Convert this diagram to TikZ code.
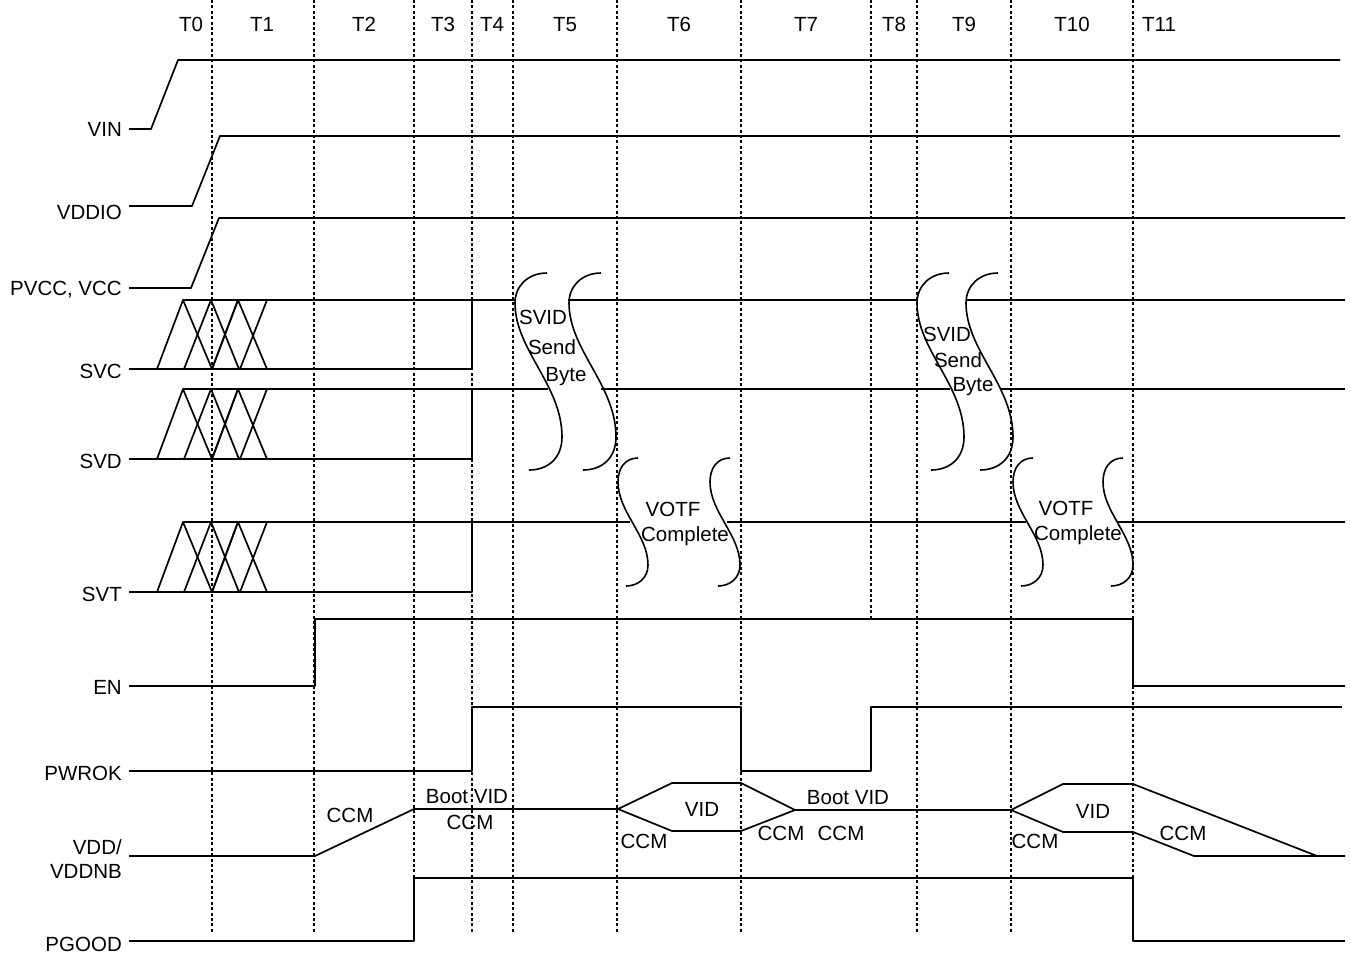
\documentclass[tikz,border=0pt]{standalone}
\usepackage{fontspec}
\setmainfont{Liberation Sans}
\usetikzlibrary{positioning}

\begin{document}
\begin{tikzpicture}[
    x=1pt, y=-1pt,
    font=\fontsize{20.5}{24}\selectfont,
    wave/.style={draw=black, line width=1.7pt, line join=round},
    squiggle/.style={draw=black, line width=1.6pt},
    tick/.style={draw=black, line width=1.4pt, dash pattern=on 3pt off 2.4pt},
    sigword/.style={anchor=east, inner sep=0pt, align=right, yshift=-0.8pt},
    phase/.style={inner sep=0pt, yshift=-0.8pt},
    busword/.style={inner sep=0pt, align=center, yshift=-0.8pt},
  ]
  \useasboundingbox (0,0) rectangle (1351,954);

  % phase markers
  \foreach \xpos in {212,314,414,472,513,617,741,917,1011}
    \draw[tick] (\xpos,0) -- (\xpos,933);
  \draw[tick] (871,0) -- (871,620);
  \draw[tick] (1133,0) -- (1133,940);

  \foreach \nr/\xpos in {0/191,1/262,2/364,3/443,4/492,5/565,6/679,7/806,8/894,9/964,10/1072,11/1159}
    \node[phase] (t\nr) at (\xpos,24) {T\nr};

  % signal names
  \node[sigword] (vin)    at (122,129) {VIN};
  \node[sigword] (vddio)  at (122,212) {VDDIO};
  \node[sigword] (pvcc)   at (122,289) {PVCC, VCC};
  \node[sigword] (svc)    at (122,371) {SVC};
  \node[sigword] (svd)    at (122,461) {SVD};
  \node[sigword] (svt)    at (122,594) {SVT};
  \node[sigword] (en)     at (122,687) {EN};
  \node[sigword] (pwrok)  at (122,773) {PWROK};
  \node[sigword] (vdd)    at (122,858) {VDD/\\VDDNB};
  \node[sigword] (pgood)  at (122,944) {PGOOD};

  % supplies
  \draw[wave] (129,129) -- (151,129) -- (178,60) -- (1340,60);
  \draw[wave] (129,206) -- (192,206) -- (220,136) -- (1340,136);
  \draw[wave] (129,288) -- (191,288) -- (219,218) -- (1345,218);

  % SVI lines, undefined part first
  \foreach \hi/\lo in {300/369,389/459,522/592} {
    \draw[wave] (129,\lo) -- (472,\lo) -- (472,\hi);
    \draw[wave] (157,\lo) -- (183,\hi) -- (212,\lo) -- (238,\hi);
    \draw[wave] (184,\lo) -- (211,\hi) -- (239,\lo) -- (240,\lo) -- (267,\hi);
    \draw[wave] (212,\lo) -- (238,\hi) -- (267,\lo);
  }
  \draw[wave] (183,300) -- (515,300);
  \draw[wave] (568,300) -- (918,300);
  \draw[wave] (966,300) -- (1345,300);
  \draw[wave] (183,389) -- (548,389);
  \draw[wave] (601,389) -- (950,389);
  \draw[wave] (1000,389) -- (1345,389);
  \draw[wave] (183,522) -- (630,522);
  \draw[wave] (727,522) -- (1026,522);
  \draw[wave] (1117,522) -- (1345,522);

  % breaks in the time axis
  \foreach \dx in {0,54,402,451}
    \draw[squiggle, shift={(\dx,0)}] (547,273) .. controls (528,273) and (515,286) .. (515,303)
      .. controls (515,350) and (562,385) .. (562,437)
      .. controls (562,458) and (548,470) .. (529,470);
  \foreach \dx in {0,92,395,485}
    \draw[squiggle, shift={(\dx,0)}] (638,458) .. controls (625,458) and (618,468) .. (618,482)
      .. controls (618,512) and (648,535) .. (648,565)
      .. controls (648,578) and (638,586) .. (626,586);

  \node[busword] (svida)  at (543,317) {SVID};
  \node[busword] (senda)  at (552,346) {Send};
  \node[busword] (bytea)  at (566,376) {Byte};
  \node[busword] (svidb)  at (947,334) {SVID};
  \node[busword] (sendb)  at (958,359) {Send};
  \node[busword] (byteb)  at (973,386) {Byte};
  \node[busword] (votfa)  at (673,509) {VOTF};
  \node[busword] (compa)  at (685,535) {Complete};
  \node[busword] (votfb)  at (1066,508) {VOTF};
  \node[busword] (compb)  at (1078,534) {Complete};

  % EN, PWROK, PGOOD
  \draw[wave] (129,686) -- (315,686) -- (315,619) -- (1133,619) -- (1133,686) -- (1345,686);
  \draw[wave] (129,771) -- (472,771) -- (472,707) -- (741,707) -- (741,771)
    -- (871,771) -- (871,707) -- (1342,707);
  \draw[wave] (129,941) -- (414,941) -- (414,878) -- (1133,878) -- (1133,941) -- (1345,941);

  % VDD/VDDNB
  \draw[wave] (129,856) -- (315,856) -- (414,809) -- (618,809) -- (672,783) -- (741,783) -- (795,810)
    -- (741,831) -- (672,831) -- (618,809);
  \draw[wave] (795,810) -- (1011,810) -- (1063,784) -- (1133,784) -- (1317,856) -- (1345,856);
  \draw[wave] (1011,810) -- (1063,832) -- (1133,832) -- (1194,856) -- (1317,856);

  \node[busword] (ccma)   at (350,815) {CCM};
  \node[busword] (boota)  at (467,796) {Boot VID};
  \node[busword] (ccmb)   at (470,822) {CCM};
  \node[busword] (vida)   at (702,809) {VID};
  \node[busword] (ccmc)   at (644,841) {CCM};
  \node[busword] (ccmd)   at (781,833) {CCM};
  \node[busword] (ccme)   at (841,833) {CCM};
  \node[busword] (bootb)  at (848,797) {Boot VID};
  \node[busword] (vidb)   at (1093,811) {VID};
  \node[busword] (ccmf)   at (1035,841) {CCM};
  \node[busword] (ccmg)   at (1183,833) {CCM};
\end{tikzpicture}
\end{document}
